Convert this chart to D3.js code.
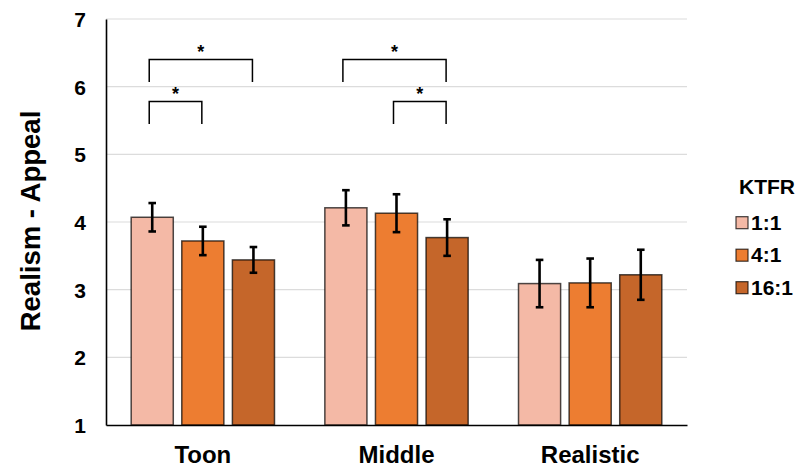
<!DOCTYPE html>
<html>
<head>
<meta charset="utf-8">
<script src="https://cdn.jsdelivr.net/npm/d3@7"></script>
<style>
  html, body { margin: 0; padding: 0; background: #fff; }
  svg { display: block; font-family: "Liberation Sans", Arial, sans-serif; }
</style>
</head>
<body>
<svg id="chart" width="795" height="469"></svg>
<script>
// Ratings per realism level, split by KTFR ratio
const categories = ["Toon", "Middle", "Realistic"];
const seriesNames = ["1:1", "4:1", "16:1"];
const mean_1_1 = [4.07, 4.21, 3.09];
const mean_4_1 = [3.72, 4.13, 3.10];
const mean_16_1 = [3.44, 3.77, 3.22];
const err_1_1 = [0.21, 0.26, 0.35];
const err_4_1 = [0.21, 0.28, 0.36];
const err_16_1 = [0.19, 0.27, 0.37];
const yTicks = [1, 2, 3, 4, 5, 6, 7];
const seriesColors = ["#f4b9a6", "#ed7d31", "#c5662a"];
// Significant pairwise differences (drawn as brackets with a star)
const brackets = [
  { category: "Toon", from: "1:1", to: "16:1", level: 6.40 },
  { category: "Toon", from: "1:1", to: "4:1", level: 5.78 },
  { category: "Middle", from: "1:1", to: "16:1", level: 6.40 },
  { category: "Middle", from: "4:1", to: "16:1", level: 5.78 }
];

const means = [mean_1_1, mean_4_1, mean_16_1];
const errs = [err_1_1, err_4_1, err_16_1];
const rows = [];
seriesNames.forEach((s, si) => {
  categories.forEach((c, ci) => {
    rows.push({ series: s, category: c, value: means[si][ci], err: errs[si][ci] });
  });
});

const svg = d3.select("#chart");
const plotLeft = 106, plotRight = 687, plotTop = 19, plotBottom = 425;

const x0 = d3.scaleBand().domain(categories).range([plotLeft, plotRight])
  .paddingInner(0.26).paddingOuter(0.13);
const x1 = d3.scaleBand().domain(seriesNames).range([0, x0.bandwidth()])
  .paddingInner(0.168);
const y = d3.scaleLinear().domain([1, 7]).range([plotBottom, plotTop]);
const color = d3.scaleOrdinal().domain(seriesNames).range(seriesColors);

// Horizontal gridlines
svg.append("g").selectAll("line")
  .data(yTicks.filter(t => t > 1))
  .join("line")
  .attr("x1", plotLeft).attr("x2", plotRight)
  .attr("y1", d => y(d)).attr("y2", d => y(d))
  .attr("stroke", "#dcdcdc").attr("stroke-width", 1.2);

// Bars
svg.append("g").selectAll("rect")
  .data(rows)
  .join("rect")
  .attr("x", d => x0(d.category) + x1(d.series))
  .attr("width", x1.bandwidth())
  .attr("y", d => y(d.value))
  .attr("height", d => y(1) - y(d.value))
  .attr("fill", d => color(d.series))
  .attr("stroke", "rgba(0,0,0,0.7)")
  .attr("stroke-width", 1.5);

// Error bars
const eb = svg.append("g").attr("stroke", "#000").attr("stroke-width", 2.6);
rows.forEach(d => {
  const cx = x0(d.category) + x1(d.series) + x1.bandwidth() / 2;
  const y1 = y(d.value + d.err), y2 = y(d.value - d.err);
  eb.append("line").attr("x1", cx).attr("x2", cx).attr("y1", y1).attr("y2", y2);
  eb.append("line").attr("x1", cx - 3.8).attr("x2", cx + 3.8).attr("y1", y1).attr("y2", y1);
  eb.append("line").attr("x1", cx - 3.8).attr("x2", cx + 3.8).attr("y1", y2).attr("y2", y2);
});

// Y axis
const yAxis = svg.append("g")
  .attr("transform", `translate(${plotLeft},0)`)
  .call(d3.axisLeft(y).tickValues(yTicks).tickFormat(d3.format("d")).tickSize(0).tickPadding(20));
yAxis.select(".domain").attr("stroke", "#000").attr("stroke-width", 1.6);
yAxis.selectAll("text")
  .attr("font-size", 21).attr("font-weight", "bold").attr("fill", "#000")
  .attr("dy", "0.36em")
  .attr("font-family", "Liberation Sans, Arial, sans-serif");

// X axis
const xAxis = svg.append("g")
  .attr("transform", `translate(0,${plotBottom})`)
  .call(d3.axisBottom(x0).tickSize(0).tickSizeOuter(0).tickPadding(21));
xAxis.select(".domain").attr("stroke", "#000").attr("stroke-width", 1.6);
xAxis.selectAll("text")
  .attr("font-size", 24).attr("font-weight", "bold").attr("fill", "#000")
  .attr("font-family", "Liberation Sans, Arial, sans-serif");

// Y axis title
svg.append("text")
  .attr("transform", `translate(40,221) rotate(-90)`)
  .attr("text-anchor", "middle")
  .attr("font-size", 27.5).attr("font-weight", "bold")
  .text("Realism - Appeal");

// Significance brackets
const drop = 0.33;
const bg = svg.append("g");
brackets.forEach(b => {
  const xa = x0(b.category) + x1(b.from) + x1.bandwidth() / 2 - 3;
  const xb = x0(b.category) + x1(b.to) + x1.bandwidth() / 2 - 1;
  const yt = y(b.level), yb = y(b.level - drop);
  bg.append("path")
    .attr("d", `M${xa},${yb}V${yt}H${xb}V${yb}`)
    .attr("fill", "none").attr("stroke", "#000").attr("stroke-width", 1.5);
  bg.append("text")
    .attr("x", (xa + xb) / 2).attr("y", yt - 1.5)
    .attr("text-anchor", "middle")
    .attr("font-size", 18).attr("font-weight", "bold")
    .text("*");
});

// Legend
const lg = svg.append("g");
lg.append("text").attr("x", 739).attr("y", 194)
  .attr("font-size", 21).attr("font-weight", "bold").text("KTFR");
seriesNames.forEach((s, i) => {
  const cy = 222.7 + i * 32.5;
  lg.append("rect").attr("x", 736).attr("y", cy - 6).attr("width", 12).attr("height", 12)
    .attr("fill", color(s)).attr("stroke", "rgba(0,0,0,0.75)").attr("stroke-width", 1.2);
  lg.append("text").attr("x", 751).attr("y", cy + 7)
    .attr("font-size", 21).attr("font-weight", "bold").text(s);
});
</script>
</body>
</html>
